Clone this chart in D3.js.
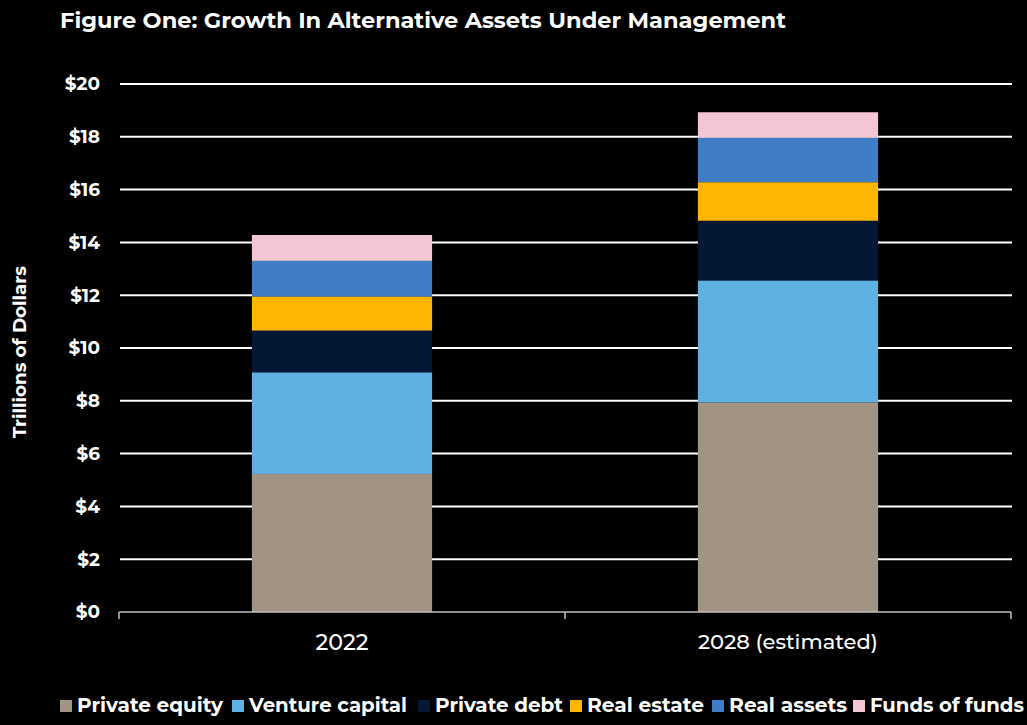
<!DOCTYPE html>
<html>
<head>
<meta charset="utf-8">
<script src="https://cdn.jsdelivr.net/npm/d3@7"></script>
<style>
  html, body { margin: 0; padding: 0; background: #000; }
  svg { display: block; font-family: "Montserrat", "Open Sans", sans-serif; }
</style>
</head>
<body>
<svg id="chart" width="1027" height="725"></svg>
<script>
const categories = ['2022', '2028 (estimated)'];
const seriesNames = ['Private equity', 'Venture capital', 'Private debt', 'Real estate', 'Real assets', 'Funds of funds'];
const privateEquity = [5.23, 7.94];
const ventureCapital = [3.85, 4.62];
const privateDebt = [1.58, 2.26];
const realEstate = [1.29, 1.46];
const realAssets = [1.35, 1.69];
const fundsOfFunds = [0.98, 0.96];
const yTicks = [0, 2, 4, 6, 8, 10, 12, 14, 16, 18, 20];

const colors = ['#a29484', '#5fb1e3', '#041836', '#ffb600', '#3f7dc7', '#f4c5d3'];

const width = 1027, height = 725;
const margin = { top: 84, right: 16, bottom: 113, left: 119 };

const svg = d3.select('#chart');

// rows for the stack
const seriesValues = [privateEquity, ventureCapital, privateDebt, realEstate, realAssets, fundsOfFunds];
const rows = categories.map((c, i) => {
  const r = { category: c };
  seriesNames.forEach((s, j) => { r[s] = seriesValues[j][i]; });
  return r;
});
const stacked = d3.stack().keys(seriesNames)(rows);

const x = d3.scaleBand()
  .domain(categories)
  .range([margin.left, width - margin.right])
  .padding(0);

const barWidth = x.bandwidth() * 0.404;

const y = d3.scaleLinear()
  .domain([0, 20])
  .range([height - margin.bottom, margin.top]);

// fit text to a target width
function fit(sel, target) {
  sel.each(function () {
    const size = parseFloat(this.getAttribute('font-size'));
    const w = this.getComputedTextLength();
    if (w > 0) this.setAttribute('font-size', (size * target / w).toFixed(2));
  });
}

// Title
svg.append('text')
  .attr('x', 60)
  .attr('y', 28)
  .attr('fill', '#fff')
  .attr('font-weight', 700)
  .attr('font-size', 20)
  .text('Figure One: Growth In Alternative Assets Under Management')
  .call(fit, 726);

// Gridlines
svg.append('g')
  .selectAll('line')
  .data(yTicks.filter(d => d > 0))
  .join('line')
  .attr('x1', margin.left + 1)
  .attr('x2', 1012)
  .attr('y1', d => y(d))
  .attr('y2', d => y(d))
  .attr('stroke', '#fff')
  .attr('stroke-width', 2);

// Bars
svg.append('g')
  .selectAll('g')
  .data(stacked)
  .join('g')
  .attr('fill', (d, i) => colors[i])
  .selectAll('rect')
  .data(d => d)
  .join('rect')
  .attr('x', d => x(d.data.category) + (x.bandwidth() - barWidth) / 2)
  .attr('width', barWidth)
  .attr('y', d => y(d[1]))
  .attr('height', d => y(d[0]) - y(d[1]));

// Y axis labels
const yAxis = svg.append('g')
  .attr('transform', `translate(${margin.left},0)`)
  .call(d3.axisLeft(y).tickValues(yTicks).tickFormat(d => '$' + d).tickSize(0).tickPadding(19));
yAxis.select('.domain').remove();
yAxis.selectAll('text')
  .attr('fill', '#fff')
  .attr('font-size', 18.5)
  .attr('font-weight', 700)
  .attr('font-family', '"Montserrat", "Open Sans", sans-serif');

// X axis
const xAxis = svg.append('g')
  .attr('transform', `translate(0,${y(0)})`)
  .call(d3.axisBottom(x).tickSize(0).tickPadding(22));
xAxis.select('.domain')
  .attr('stroke', '#bfbfbf')
  .attr('stroke-width', 1.5)
  .attr('d', `M${margin.left},0H${width - margin.right}`);
xAxis.selectAll('text')
  .attr('fill', '#fff')
  .attr('font-size', 17)
  .attr('font-weight', 500)
  .attr('font-family', '"Montserrat", "Open Sans", sans-serif');
xAxis.selectAll('text').filter(d => d === categories[0]).call(fit, 53);
xAxis.selectAll('text').filter(d => d === categories[1]).call(fit, 180);

// Category boundary ticks
const boundaries = [margin.left, ...categories.map(c => x(c) + x.bandwidth())];
svg.append('g')
  .selectAll('line')
  .data(boundaries)
  .join('line')
  .attr('x1', d => d)
  .attr('x2', d => d)
  .attr('y1', y(0))
  .attr('y2', y(0) + 7)
  .attr('stroke', '#bfbfbf')
  .attr('stroke-width', 1.5);

// Y axis title
svg.append('text')
  .attr('transform', `translate(26,${(y(0) + y(20)) / 2 + 4}) rotate(-90)`)
  .attr('text-anchor', 'middle')
  .attr('fill', '#fff')
  .attr('font-weight', 700)
  .attr('font-size', 17)
  .text('Trillions of Dollars')
  .call(fit, 172);

// Legend
const legendX = [60, 232, 418, 570, 712, 853];
const legendTextW = [146, 158, 128, 117, 118, 154];
const legend = svg.append('g')
  .selectAll('g')
  .data(seriesNames)
  .join('g')
  .attr('transform', (d, i) => `translate(${legendX[i]},706)`);
legend.append('rect')
  .attr('x', 0)
  .attr('y', -6)
  .attr('width', 12)
  .attr('height', 12)
  .attr('fill', (d, i) => colors[i]);
legend.append('text')
  .attr('x', 17)
  .attr('y', 6)
  .attr('fill', '#fff')
  .attr('font-weight', 700)
  .attr('font-size', 17)
  .text(d => d)
  .each(function (d, i) { d3.select(this).call(fit, legendTextW[i]); });
</script>
</body>
</html>
